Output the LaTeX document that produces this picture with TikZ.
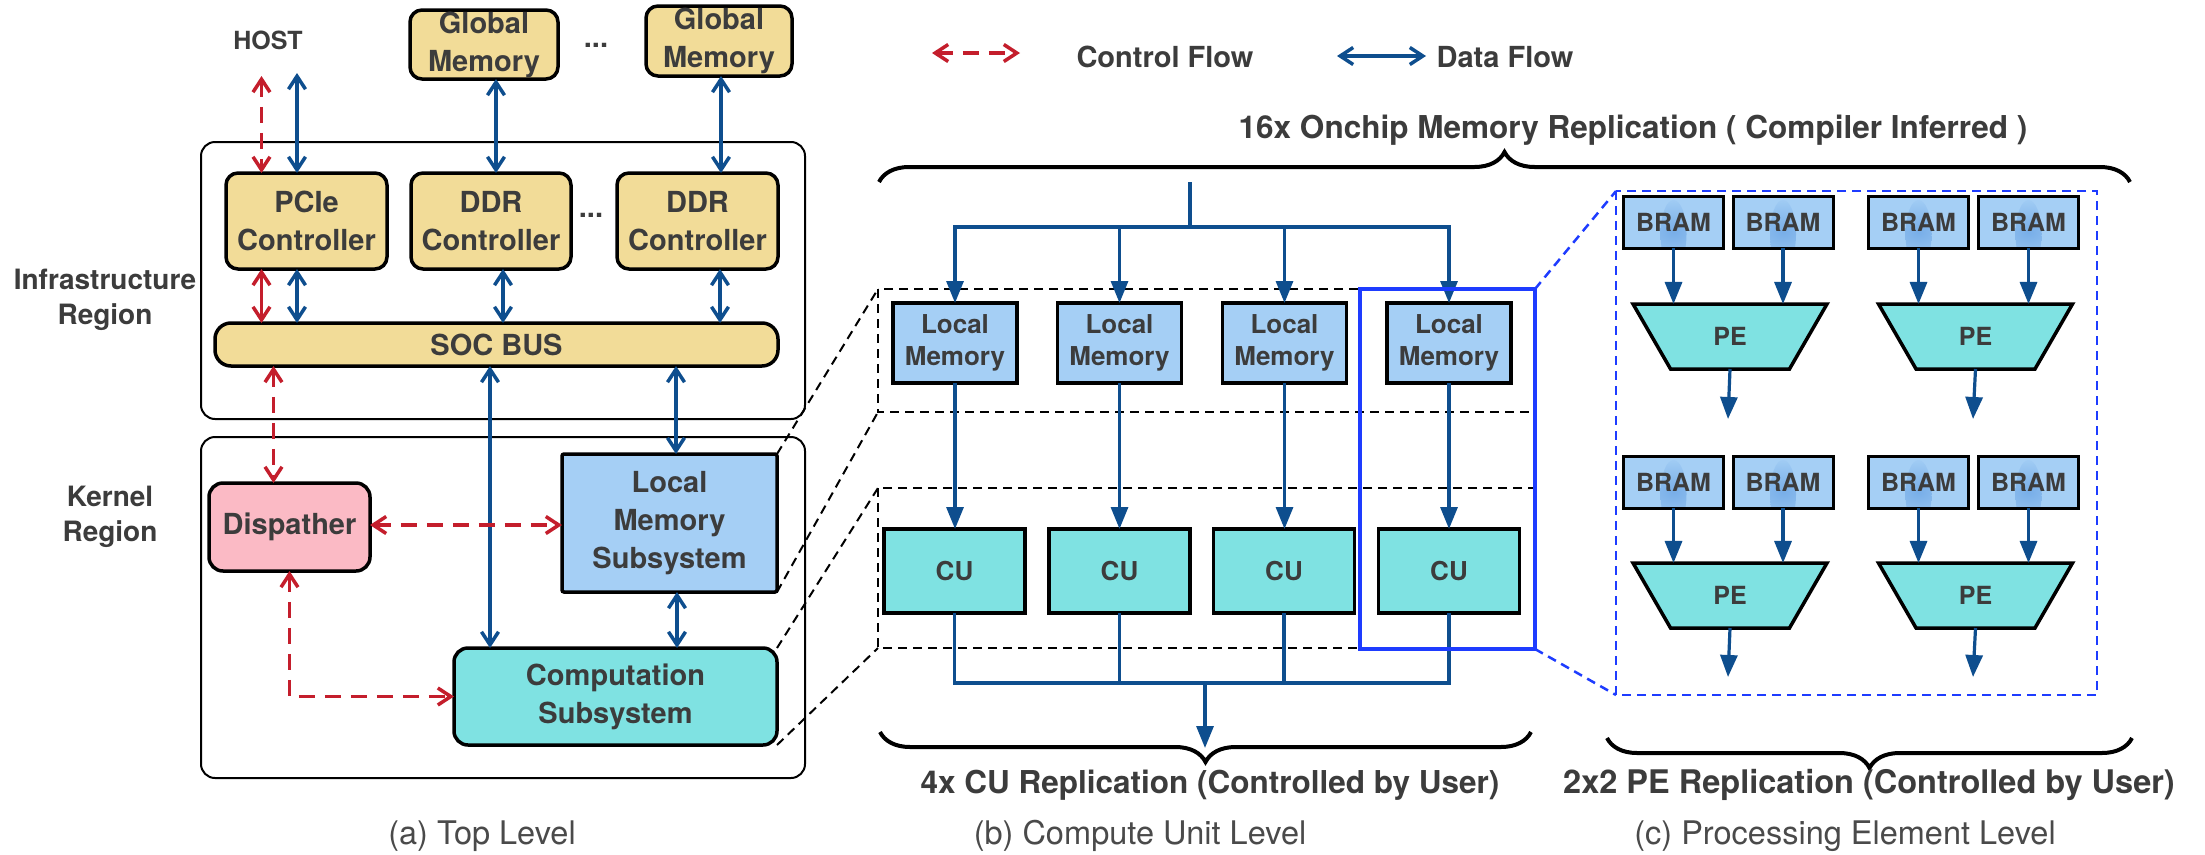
\documentclass[tikz,border=0pt]{standalone}
\usepackage{fontspec}
\setmainfont{TeX Gyre Heros}
\usetikzlibrary{arrows.meta,shapes.geometric,decorations.pathreplacing}

\definecolor{tanfill}{HTML}{F2DC98}
\definecolor{pinkfill}{HTML}{FBBAC5}
\definecolor{lbluefill}{HTML}{A5CFF5}
\definecolor{streak}{HTML}{78AEE8}
\definecolor{cyanfill}{HTML}{7FE2E2}
\definecolor{dataflow}{HTML}{0E4E8E}
\definecolor{ctrlflow}{HTML}{C41E2C}
\definecolor{zoomblue}{HTML}{1E3CFF}
\definecolor{txt}{HTML}{3C3C3C}
\definecolor{captxt}{HTML}{4A4A4A}

\newcommand\fsz[2]{\fontsize{#1}{#2}\selectfont}

\tikzset{
  every node/.style={inner sep=0pt, outer sep=0pt, text=txt},
  lbl/.style={font=\fsz{29}{38}\bfseries, align=center},
  captionlbl/.style={font=\fsz{32.5}{38}, anchor=base, text=captxt},
  boxline/.style={draw=black, line width=3.5pt},
  tanbox/.style={boxline, fill=tanfill, rounded corners=12pt, lbl},
  flowbarb/.tip={Straight Barb[length=13pt,width=17pt]},
  flowtri/.tip={Triangle[length=22pt,width=17pt]},
  data/.style={draw=dataflow, line width=3.5pt, flowbarb-flowbarb},
  ctrl/.style={draw=ctrlflow, line width=3.5pt, dash pattern=on 16pt off 10pt, flowbarb-flowbarb},
  feed/.style={draw=dataflow, line width=3.2pt, -flowtri},
  wire/.style={draw=dataflow, line width=3.2pt},
  region/.style={draw=black, line width=2pt, rounded corners=14pt},
  frame/.style={draw=black, line width=2pt, dash pattern=on 9pt off 6pt},
  zoomframe/.style={draw=zoomblue, line width=2.5pt, dash pattern=on 9pt off 6pt},
  brc/.style={draw=black, line width=4pt, decorate, decoration={brace, amplitude=30pt}},
  lm/.style={boxline, fill=lbluefill, minimum width=124pt, minimum height=80pt,
    font=\fsz{26}{32}\bfseries, align=center},
  cu/.style={boxline, fill=cyanfill, minimum width=141pt, minimum height=84pt,
    font=\fsz{26}{32}\bfseries},
  bram/.style={draw=black, line width=3pt, fill=lbluefill, minimum width=100pt,
    minimum height=52pt, font=\fsz{25}{30}\bfseries,
    path picture={\shade[inner color=streak, outer color=lbluefill]
      ([yshift=-12pt]path picture bounding box.center) ellipse [x radius=13pt, y radius=34pt];}},
  pe/.style={trapezium, trapezium angle=60, shape border rotate=180,
    minimum width=188pt, minimum height=65pt, boxline, fill=cyanfill,
    font=\fsz{25}{30}\bfseries},
}

\begin{document}
\begin{tikzpicture}[x=1pt,y=-1pt]
\fill[white] (0,0) rectangle (2205,854);
\useasboundingbox (0,0) rectangle (2205,854);

% ---------- (a) top level ----------
\draw[region] (201,142) rectangle (805,419);
\draw[region] (201,437) rectangle (805,778);

\node[lbl, font=\fsz{25}{30}\bfseries] (host) at (268,40) {HOST};
\node[tanbox, minimum width=148pt, minimum height=69pt] (gm1) at (484,44.5) {Global\\Memory};
\node[tanbox, minimum width=146pt, minimum height=70pt] (gm2) at (719,41) {Global\\Memory};
\node[lbl] (gdots) at (596,45) {...};

\node[tanbox, minimum width=161pt, minimum height=96pt] (pcie) at (306.5,221) {PCIe\\Controller};
\node[tanbox, minimum width=160pt, minimum height=96pt] (ddr1) at (491,221) {DDR\\Controller};
\node[tanbox, minimum width=161pt, minimum height=96pt] (ddr2) at (697.5,221) {DDR\\Controller};
\node[lbl] (cdots) at (591,215) {...};
\node[tanbox, minimum width=563pt, minimum height=43pt, rounded corners=16pt] (soc) at (496.5,344.5) {SOC BUS};

\node[lbl, font=\fsz{28}{35}\bfseries] (infra) at (105,300) {Infrastructure\\Region};
\node[lbl, font=\fsz{28}{35}\bfseries] (kern) at (110,517) {Kernel\\Region};

\node[boxline, fill=pinkfill, rounded corners=14pt, lbl, minimum width=161pt, minimum height=88pt] (disp) at (289.5,527) {Dispather};
\node[boxline, fill=lbluefill, rounded corners=2pt, lbl, minimum width=215pt, minimum height=138pt] (lms) at (669.5,523) {Local\\Memory\\Subsystem};
\node[boxline, fill=cyanfill, rounded corners=14pt, lbl, minimum width=323pt, minimum height=97pt] (comp) at (615.5,696.5) {Computation\\Subsystem};

% host and global memory links
\coordinate (hostR) at (261.5,76);
\coordinate (hostD) at (297,73);
\draw[ctrl] (hostR) -- (hostR |- pcie.north);
\draw[data] (hostD) -- (hostD |- pcie.north);
\draw[data] ([xshift=12pt]gm1.south) -- ([xshift=12pt]gm1.south |- ddr1.north);
\draw[data] ([xshift=2pt]gm2.south) -- ([xshift=2pt]gm2.south |- ddr2.north);

% controllers to bus
\draw[ctrl, dash pattern=on 30pt off 0pt] ([xshift=-45pt]pcie.south) -- ([xshift=-45pt]pcie.south |- soc.north);
\draw[data] ([xshift=-9.5pt]pcie.south) -- ([xshift=-9.5pt]pcie.south |- soc.north);
\draw[data] ([xshift=12pt]ddr1.south) -- ([xshift=12pt]ddr1.south |- soc.north);
\draw[data] ([xshift=22.5pt]ddr2.south) -- ([xshift=22.5pt]ddr2.south |- soc.north);

% bus to kernel region
\draw[ctrl] ([xshift=-16pt]disp.north |- soc.south) -- ([xshift=-16pt]disp.north);
\draw[data] ([xshift=-125.5pt]comp.north |- soc.south) -- ([xshift=-125.5pt]comp.north);
\draw[data] ([xshift=6.5pt]lms.north |- soc.south) -- ([xshift=6.5pt]lms.north);
\draw[data] ([xshift=7.5pt]lms.south) -- ([xshift=7.5pt]lms.south |- comp.north);
\draw[ctrl] ([yshift=2pt]disp.east) -- ([yshift=2pt]disp.east -| lms.west);
\draw[ctrl] (disp.south) |- (comp.west);

% ---------- legend ----------
\coordinate (cfL) at (932,53);
\coordinate (cfR) at (1020,53);
\draw[ctrl] (cfL) -- (cfR);
\node[lbl] (cftext) at (1165,57) {Control Flow};
\coordinate (dfL) at (1337,56);
\coordinate (dfR) at (1426,56);
\draw[data] (dfL) -- (dfR);
\node[lbl] (dftext) at (1505,57) {Data Flow};

% ---------- (b) compute unit level ----------
\node[lbl, font=\fsz{31.5}{36}\bfseries, anchor=base] (title) at (1633,138) {16x Onchip Memory Replication ( Compiler Inferred )};
\draw[brc] (879,182) -- (2130,182);

\coordinate (lmfTL) at (878,289);
\coordinate (lmfBL) at (878,412);
\coordinate (cufTL) at (878,488);
\coordinate (cufBL) at (878,648);
\draw[frame] (lmfTL) rectangle (1535,412);
\draw[frame] (cufTL) rectangle (1535,648);
\draw[frame] (lms.north east) -- (lmfTL);
\draw[frame] (lms.south east) -- (lmfBL);
\draw[frame] (comp.north east) -- (cufTL);
\draw[frame] (comp.south east) -- (cufBL);

\foreach \i/\x in {1/955,2/1119.5,3/1284.5,4/1449}
  \node[lm] (lm\i) at (\x,343) {Local\\Memory};
\foreach \i/\x in {1/954.5,2/1119.5,3/1284,4/1449}
  \node[cu] (cu\i) at (\x,571) {CU};

\coordinate (src) at (1190,182);
\coordinate (fan) at (1190,227);
\draw[wire] (src) -- (fan);
\draw[feed] (fan) -| (lm1.north);
\draw[feed] (fan) -| (lm4.north);
\draw[feed] (fan -| lm2.north) -- (lm2.north);
\draw[feed] (fan -| lm3.north) -- (lm3.north);
\foreach \i in {1,...,4}
  \draw[feed] (lm\i.south) -- (lm\i.south |- cu\i.north);

\coordinate (join) at (1205,683);
\coordinate (out) at (1205,748);
\draw[wire] (cu1.south) |- (join);
\draw[wire] (cu4.south) |- (join);
\draw[wire] (cu2.south) -- (cu2.south |- join);
\draw[wire] (cu3.south) -- (cu3.south |- join);
\draw[feed] (join) -- (out);

\coordinate (selTR) at (1535,289);
\coordinate (selBR) at (1535,649);
\draw[draw=zoomblue, line width=4pt] (1360,289) rectangle (selBR);

\draw[brc] (1531,732) -- (880,732);
\node[lbl, font=\fsz{31.5}{36}\bfseries, anchor=base] (repb) at (1210,793) {4x CU Replication (Controlled by User)};

% ---------- (c) processing element level ----------
\coordinate (peTL) at (1616,191);
\coordinate (peBL) at (1616,695);
\draw[zoomframe] (peTL) rectangle (2097,695);
\draw[zoomframe] (selTR) -- (peTL);
\draw[zoomframe] (selBR) -- (peBL);

\foreach \r/\by/\py/\oy in {1/222/336.5/419, 2/482/595.5/677} {
  \node[bram] (b\r1) at (1673.5,\by) {BRAM};
  \node[bram] (b\r2) at (1783,\by) {BRAM};
  \node[bram] (b\r3) at (1918.5,\by) {BRAM};
  \node[bram] (b\r4) at (2028.5,\by) {BRAM};
  \node[pe] (pe\r1) at (1730,\py) {PE};
  \node[pe] (pe\r2) at (1975.5,\py) {PE};
  \coordinate (o\r1) at (1728,\oy);
  \coordinate (o\r2) at (1973,\oy);
  \draw[feed] (b\r1.south) -- (b\r1.south |- pe\r1.north);
  \draw[feed] (b\r2.south) -- (b\r2.south |- pe\r1.north);
  \draw[feed] (b\r3.south) -- (b\r3.south |- pe\r2.north);
  \draw[feed] (b\r4.south) -- (b\r4.south |- pe\r2.north);
  \draw[feed] (pe\r1.south) -- (o\r1);
  \draw[feed] (pe\r2.south) -- (o\r2);
}

\draw[brc] (2132,738) -- (1607,738);
\node[lbl, font=\fsz{32.5}{36}\bfseries, anchor=base] (repc) at (1869,793) {2x2 PE Replication (Controlled by User)};

% ---------- captions ----------
\node[captionlbl] (capa) at (482,844) {(a) Top Level};
\node[captionlbl] (capb) at (1140,844) {(b) Compute Unit Level};
\node[captionlbl] (capc) at (1845,844) {(c) Processing Element Level};
\end{tikzpicture}
\end{document}
